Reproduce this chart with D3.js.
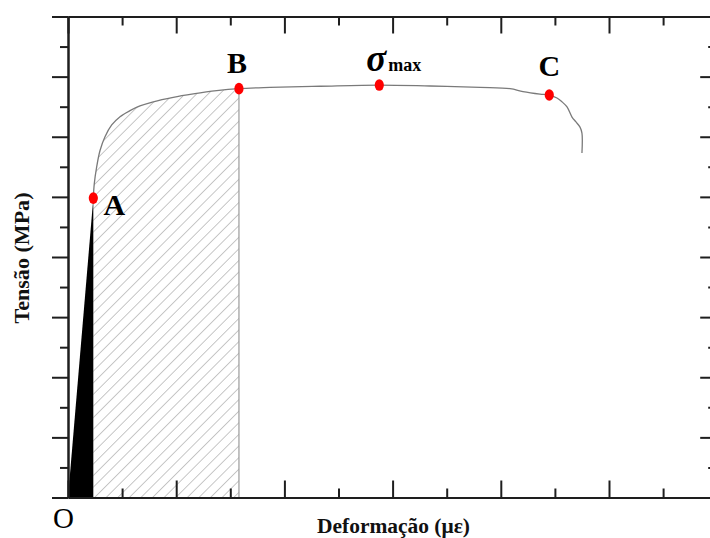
<!DOCTYPE html>
<html>
<head>
<meta charset="utf-8">
<script src="https://cdn.jsdelivr.net/npm/d3@7"></script>
<style>
  html, body { margin: 0; padding: 0; background: #fff; }
  svg { display: block; }
</style>
</head>
<body>
<svg id="chart" width="710" height="538"></svg>
<script>
// Stress–strain curve (schematic): strain in με, stress in MPa
const curveStrain = [234, 243, 265, 296, 342, 404, 481, 573, 665, 788, 973, 1158, 1374, 1580,
  1867, 2329, 2877, 3346, 3808, 4085, 4205, 4362, 4448, 4519, 4566, 4612, 4658, 4695, 4732, 4750, 4750];
const curveStress = [249, 261, 275, 288.6, 300, 309.8, 316.7, 321.7, 325.6, 329.1, 332.8, 335.6, 338.3, 340,
  341, 342, 343, 342.2, 341.1, 340, 337.6, 335.5, 334.7, 332.2, 329, 324.8, 316.4, 312.3, 308, 303, 286.5];

// Key points on the curve
const pointNames  = ["A", "B", "σmax", "C"];
const pointStrain = [234, 1580, 2877, 4448];
const pointStress = [249, 340, 343, 334.7];

// Axis ticks (unlabelled)
const xMajorTicks = [0, 1000, 2000, 3000, 4000, 5000, 6000];
const xMinorTicks = [500, 1500, 2500, 3500, 4500, 5500];
const yMajorTicks = [0, 50, 100, 150, 200, 250, 300, 350, 400];
const yMinorTicks = [25, 75, 125, 175, 225, 275, 325, 375];

const xLabel = "Deformação (με)";
const yLabel = "Tensão (MPa)";
const originLabel = "O";

const svg = d3.select("#chart");
const plot = { left: 68, right: 717.2, top: 16.5, bottom: 497.5 };

const x = d3.scaleLinear().domain([0, 6000]).range([plot.left, plot.right]);
const y = d3.scaleLinear().domain([0, 400]).range([plot.bottom, plot.top]);

// hatch pattern for the plastic-energy region
const defs = svg.append("defs");
defs.append("pattern")
  .attr("id", "hatch")
  .attr("patternUnits", "userSpaceOnUse")
  .attr("width", 8.2).attr("height", 8.2)
  .attr("patternTransform", "rotate(45)")
  .append("line")
  .attr("x1", 0).attr("y1", -1).attr("x2", 0).attr("y2", 9.2)
  .attr("stroke", "#999").attr("stroke-width", 1.1);

const pts = curveStrain.map((s, i) => [s, curveStress[i]]);
const iB = curveStrain.indexOf(pointStrain[1]);
const plasticPts = pts.slice(0, iB + 1);

const smooth = d3.curveCatmullRom.alpha(0.5);

// hatched area between A and B
svg.append("path")
  .datum(plasticPts)
  .attr("d", d3.area().curve(smooth)
    .x(d => x(d[0])).y0(y(0)).y1(d => y(d[1])))
  .attr("fill", "url(#hatch)");

// boundary at B
svg.append("line")
  .attr("x1", x(pointStrain[1])).attr("x2", x(pointStrain[1]))
  .attr("y1", y(0)).attr("y2", y(pointStress[1]))
  .attr("stroke", "#9a9a9a").attr("stroke-width", 1.2);

// elastic region (black wedge O–A)
const elastic = [[0, 0], [pointStrain[0], pointStress[0]], [pointStrain[0], 0]];
const straight = d3.line().x(d => x(d[0])).y(d => y(d[1]));
svg.append("path")
  .datum(elastic)
  .attr("d", d => straight(d) + "Z")
  .attr("fill", "#000");

// plastic curve
svg.append("path")
  .datum(pts)
  .attr("d", d3.line().curve(smooth).x(d => x(d[0])).y(d => y(d[1])))
  .attr("fill", "none")
  .attr("stroke", "#7a7a7a")
  .attr("stroke-width", 1.3);

// axes
function styleAxis(g) {
  g.selectAll("path.domain").attr("stroke", "#1e1e1e").attr("stroke-width", 2);
  g.selectAll(".tick line").attr("stroke", "#1e1e1e").attr("stroke-width", 2);
  g.selectAll(".tick text").remove();
}
const none = () => "";

svg.append("g").attr("transform", `translate(${plot.left},0)`)
  .call(d3.axisLeft(y).tickValues(yMajorTicks).tickSize(16).tickSizeOuter(0).tickFormat(none)).call(styleAxis);
svg.append("g").attr("transform", `translate(${plot.left},0)`)
  .call(d3.axisLeft(y).tickValues(yMinorTicks).tickSize(8).tickSizeOuter(0).tickFormat(none)).call(styleAxis);

svg.append("g").attr("transform", `translate(${plot.right},0)`)
  .call(d3.axisRight(y).tickValues(yMajorTicks).tickSize(-17).tickSizeOuter(0).tickFormat(none)).call(styleAxis);
svg.append("g").attr("transform", `translate(${plot.right},0)`)
  .call(d3.axisRight(y).tickValues(yMinorTicks).tickSize(-9).tickSizeOuter(0).tickFormat(none)).call(styleAxis);

svg.append("g").attr("transform", `translate(0,${plot.bottom})`)
  .call(d3.axisBottom(x).tickValues(xMajorTicks).tickSize(-17).tickSizeOuter(0).tickFormat(none)).call(styleAxis);
svg.append("g").attr("transform", `translate(0,${plot.bottom})`)
  .call(d3.axisBottom(x).tickValues(xMinorTicks).tickSize(-9).tickSizeOuter(0).tickFormat(none)).call(styleAxis);

svg.append("g").attr("transform", `translate(0,${plot.top})`)
  .call(d3.axisTop(x).tickValues(xMajorTicks).tickSize(-17).tickSizeOuter(0).tickFormat(none)).call(styleAxis);
svg.append("g").attr("transform", `translate(0,${plot.top})`)
  .call(d3.axisTop(x).tickValues(xMinorTicks).tickSize(-9).tickSizeOuter(0).tickFormat(none)).call(styleAxis);

// key-point markers
svg.selectAll("ellipse.pt")
  .data(pointNames.map((n, i) => ({ n, s: pointStrain[i], v: pointStress[i] })))
  .join("ellipse")
  .attr("class", "pt")
  .attr("cx", d => x(d.s)).attr("cy", d => y(d.v))
  .attr("rx", 4.6).attr("ry", 5.8)
  .attr("fill", "#ff0000");

const serif = "'Liberation Serif', 'Times New Roman', serif";

// point labels
const labelPos = {
  "A": { dx: 21, dy: 17, anchor: "middle" },
  "B": { dx: -2, dy: -16, anchor: "middle" },
  "C": { dx: 0, dy: -19, anchor: "middle" }
};
pointNames.forEach((n, i) => {
  const px = x(pointStrain[i]), py = y(pointStress[i]);
  if (n === "σmax") {
    const t = svg.append("text")
      .attr("x", px - 13).attr("y", py - 14)
      .attr("font-family", serif).attr("font-weight", "bold")
      .attr("fill", "#000");
    t.append("tspan").attr("font-size", 37).attr("font-style", "italic").text("σ");
    t.append("tspan").attr("font-size", 18).attr("dx", 2).text("max");
  } else {
    const p = labelPos[n];
    svg.append("text")
      .attr("x", px + p.dx).attr("y", py + p.dy)
      .attr("text-anchor", p.anchor)
      .attr("font-family", serif).attr("font-weight", "bold")
      .attr("font-size", 30).attr("fill", "#000")
      .text(n);
  }
});

// origin
svg.append("text")
  .attr("x", 63.5).attr("y", 527.5)
  .attr("text-anchor", "middle")
  .attr("font-family", serif).attr("font-size", 29).attr("fill", "#000")
  .text(originLabel);

// axis titles
svg.append("text")
  .attr("x", 393.5).attr("y", 533)
  .attr("text-anchor", "middle")
  .attr("font-family", serif).attr("font-weight", "bold").attr("font-size", 20)
  .attr("textLength", 153).attr("lengthAdjust", "spacingAndGlyphs")
  .attr("fill", "#111")
  .text(xLabel);

svg.append("text")
  .attr("transform", "translate(28.5,258) rotate(-90)")
  .attr("text-anchor", "middle")
  .attr("font-family", serif).attr("font-weight", "bold").attr("font-size", 21)
  .attr("textLength", 131).attr("lengthAdjust", "spacingAndGlyphs")
  .attr("fill", "#111")
  .text(yLabel);
</script>
</body>
</html>
